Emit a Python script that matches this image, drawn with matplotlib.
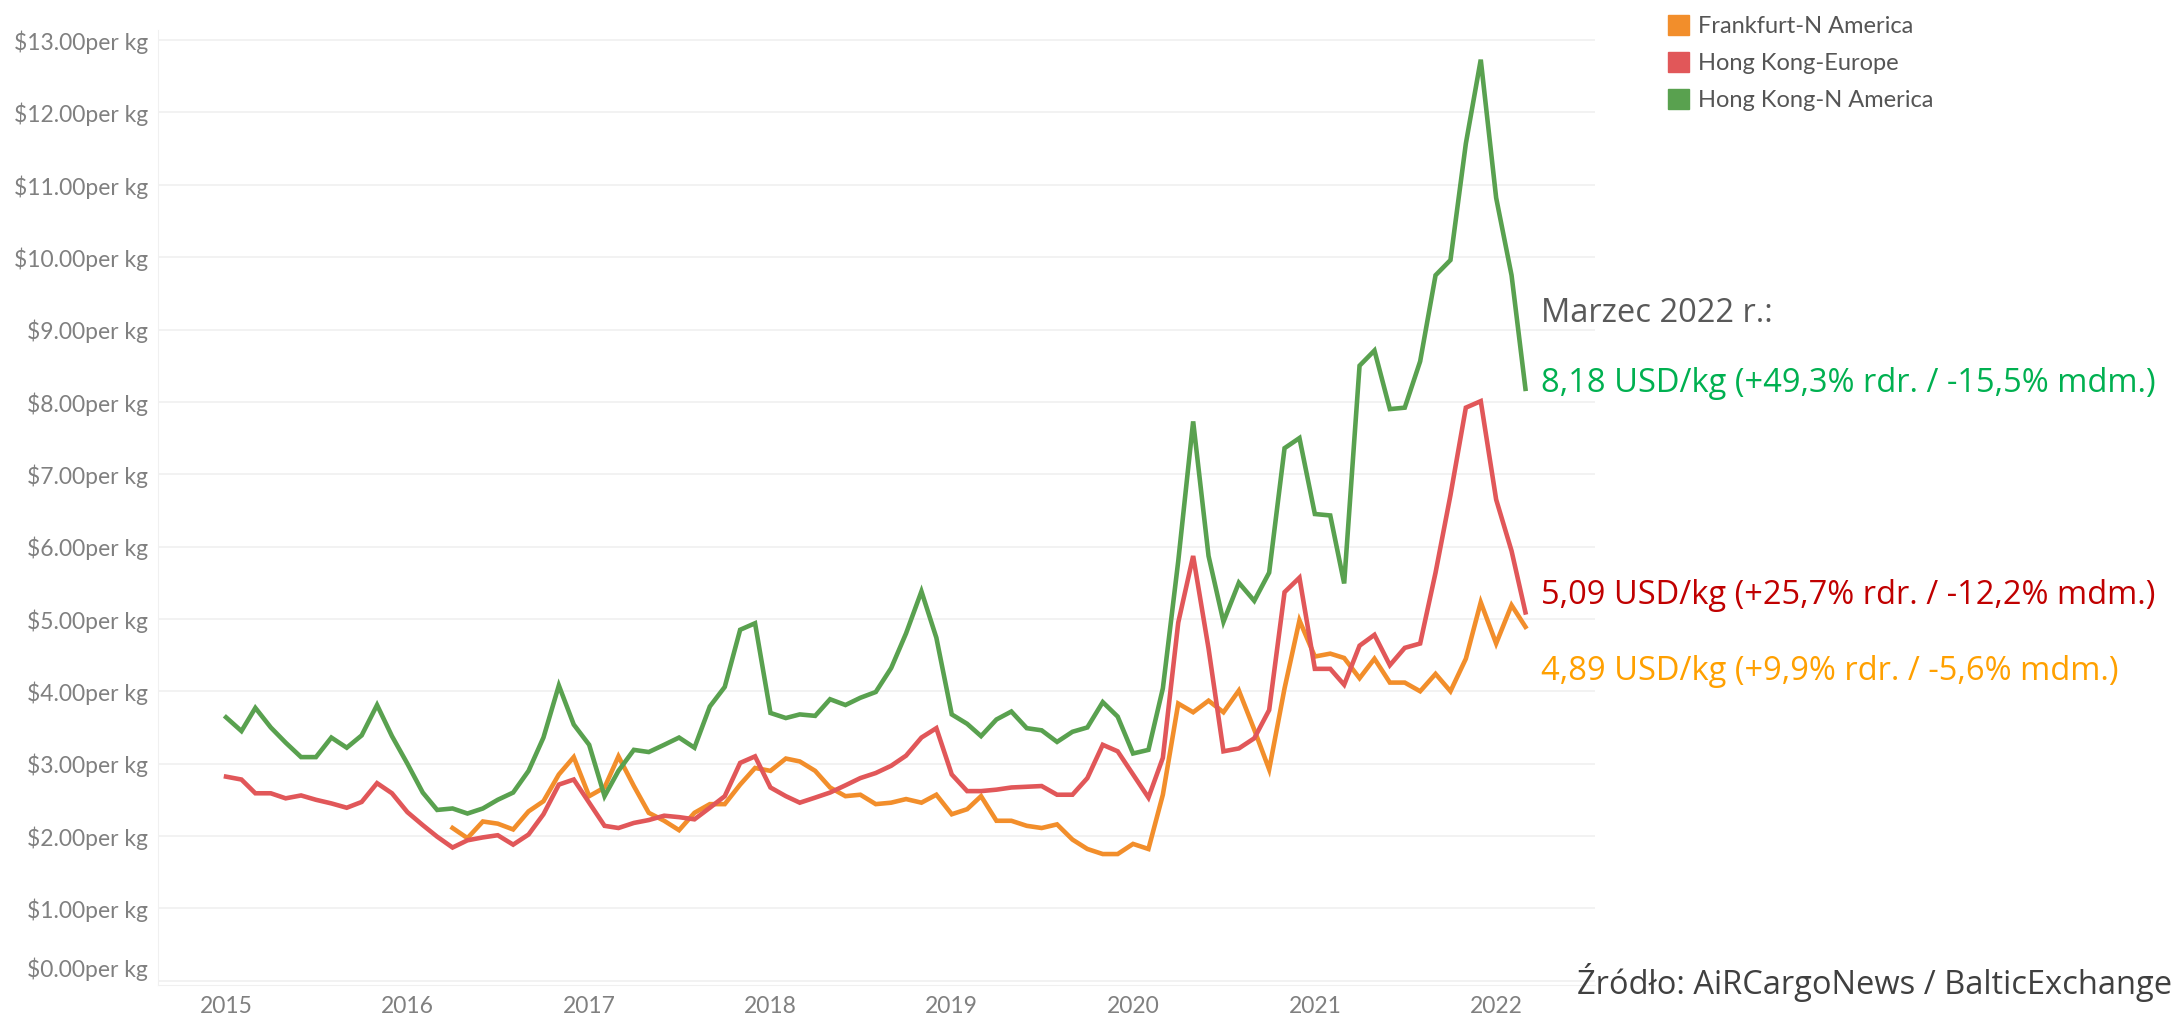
import matplotlib.pyplot as plt
import matplotlib.dates as mdates
from matplotlib.patches import Patch
from matplotlib.ticker import FuncFormatter
import numpy as np
import pandas as pd

# monthly, Jan 2015 - Mar 2022
months = pd.date_range("2015-01-01", periods=87, freq="MS")

hk_namerica = [3.64, 3.45, 3.77, 3.50, 3.29, 3.09, 3.09, 3.36, 3.22, 3.39,
               3.81, 3.38, 3.00, 2.60, 2.36, 2.38, 2.31, 2.38, 2.50, 2.60,
               2.90, 3.36, 4.08, 3.54, 3.26, 2.55, 2.90, 3.19, 3.16, 3.26,
               3.36, 3.22, 3.79, 4.06, 4.85, 4.94, 3.70, 3.63, 3.68, 3.66,
               3.89, 3.81, 3.91, 3.99, 4.32, 4.80, 5.38, 4.74, 3.68, 3.55,
               3.38, 3.61, 3.72, 3.49, 3.46, 3.30, 3.44, 3.50, 3.85, 3.65,
               3.14, 3.19, 4.04, 5.80, 7.73, 5.87, 4.96, 5.50, 5.25, 5.64,
               7.36, 7.50, 6.45, 6.43, 5.49, 8.50, 8.71, 7.90, 7.92, 8.56,
               9.75, 9.96, 11.57, 12.73, 10.82, 9.75, 8.18]

hk_europe = [2.82, 2.78, 2.59, 2.59, 2.52, 2.56, 2.50, 2.45, 2.39, 2.47,
             2.73, 2.59, 2.33, 2.15, 1.99, 1.84, 1.94, 1.98, 2.01, 1.88,
             2.02, 2.30, 2.71, 2.78, 2.46, 2.14, 2.11, 2.18, 2.22, 2.28,
             2.26, 2.23, 2.39, 2.55, 3.01, 3.10, 2.67, 2.55, 2.46, 2.53,
             2.60, 2.70, 2.80, 2.87, 2.97, 3.11, 3.36, 3.49, 2.85, 2.62,
             2.62, 2.64, 2.67, 2.68, 2.69, 2.57, 2.57, 2.80, 3.26, 3.17,
             2.85, 2.53, 3.08, 4.95, 5.87, 4.59, 3.17, 3.21, 3.35, 3.74,
             5.37, 5.57, 4.31, 4.31, 4.09, 4.63, 4.78, 4.36, 4.60, 4.66,
             5.64, 6.71, 7.92, 8.01, 6.65, 5.94, 5.09]

# Frankfurt series starts in Apr 2016
fra_namerica = [np.nan] * 15 + [
    2.11, 1.97, 2.20, 2.17, 2.09, 2.34, 2.48, 2.85, 3.09, 2.55,
    2.67, 3.10, 2.69, 2.32, 2.21, 2.08, 2.32, 2.44, 2.44, 2.71,
    2.94, 2.90, 3.07, 3.03, 2.90, 2.67, 2.55, 2.57, 2.44, 2.46,
    2.51, 2.46, 2.57, 2.30, 2.37, 2.55, 2.21, 2.21, 2.14, 2.11,
    2.16, 1.95, 1.82, 1.75, 1.75, 1.89, 1.82, 2.57, 3.83, 3.71,
    3.87, 3.71, 4.01, 3.47, 2.92, 4.04, 4.98, 4.48, 4.52, 4.46,
    4.18, 4.45, 4.12, 4.12, 4.00, 4.24, 4.00, 4.45, 5.23, 4.66,
    5.19, 4.89]

series_names = ["Frankfurt-N America", "Hong Kong-Europe", "Hong Kong-N America"]
colors = ["#F28E2B", "#E15759", "#59A14F"]

notes = ["8,18 USD/kg (+49,3% rdr. / -15,5% mdm.)",
         "5,09 USD/kg (+25,7% rdr. / -12,2% mdm.)",
         "4,89 USD/kg (+9,9% rdr. / -5,6% mdm.)"]
note_colors = ["#00B050", "#C00000", "#FFA000"]

W, H = 2182, 1016
fig = plt.figure(figsize=(W / 100, H / 100), dpi=100)
ax = fig.add_axes([158 / W, 1 - 985 / H, (1595 - 158) / W, (985 - 30) / H])

for vals, c in zip([fra_namerica, hk_europe, hk_namerica], colors):
    ax.plot(months, vals, color=c, lw=3.3, solid_joinstyle="miter")

ax.set_ylim(-0.06, 13.14)
ax.set_xlim(pd.Timestamp("2014-08-17"), pd.Timestamp("2022-07-19"))
ax.set_yticks(range(0, 14))
ax.yaxis.set_major_formatter(FuncFormatter(lambda v, p: "${:.2f}per kg".format(v)))
ax.xaxis.set_major_locator(mdates.YearLocator())
ax.xaxis.set_major_formatter(mdates.DateFormatter("%Y"))

ax.grid(axis="y", color="#f0f0f0", lw=1.2)
ax.set_axisbelow(True)
for s in ["top", "right"]:
    ax.spines[s].set_visible(False)
ax.spines["left"].set_color("#f0f0f0")
ax.spines["bottom"].set_color("#f0f0f0")
ax.tick_params(length=0, labelsize=16.5, colors="#808080", pad=7)
ax.tick_params(axis="x", pad=8)
for t in ax.get_xticklabels() + ax.get_yticklabels():
    t.set_fontfamily("Lato")
ax.get_yticklabels()[0].set_va("bottom")

handles = [Patch(color=c) for c in colors]
fig.legend(handles, series_names, loc="upper left",
           bbox_to_anchor=(1656 / W, 1 - 3 / H), frameon=False, borderaxespad=0.1,
           prop={"family": "Lato", "size": 17}, labelcolor="#555555",
           handlelength=0.9, handleheight=0.95, handletextpad=0.4,
           labelspacing=0.62)

fig.text(1541 / W, 1 - 313 / H, "Marzec 2022 r.:", color="#595959",
         fontsize=23.5, family="Open Sans", va="center")
for txt, c, yy in zip(notes, note_colors, [384, 596, 671]):
    fig.text(1541 / W, 1 - yy / H, txt, color=c, fontsize=23.5,
             family="Open Sans", va="center")
fig.text(2172 / W, 1 - 982 / H, "Źródło: AiRCargoNews / BalticExchange",
         color="#404040", fontsize=23.5, family="Open Sans", va="center", ha="right")

fig.savefig("out.png", dpi=100)
